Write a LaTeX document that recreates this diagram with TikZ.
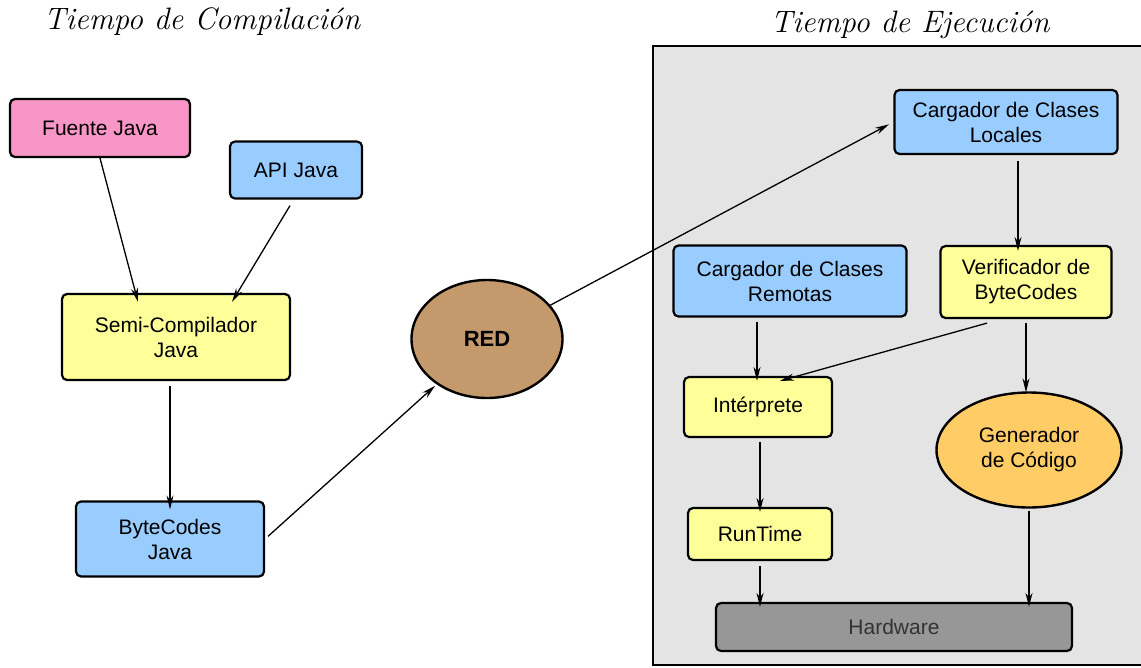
\documentclass[tikz,border=0pt]{standalone}
\usepackage{fontspec}
\setmainfont{Liberation Sans}
\newfontfamily\titlefont{Latin Modern Roman}
\usetikzlibrary{arrows.meta,shapes.geometric}
\definecolor{pinkc}{HTML}{F896C8}
\definecolor{bluec}{HTML}{99CCFF}
\definecolor{yellowc}{HTML}{FFFF99}
\definecolor{brownc}{HTML}{C49A6C}
\definecolor{orangec}{HTML}{FFCC66}
\definecolor{panelc}{HTML}{E4E4E4}
\definecolor{hwc}{HTML}{979797}
\tikzset{
  box/.style={draw=black, line width=2.2pt, rounded corners=5pt, align=center,
    font=\fontsize{21}{25}\selectfont, inner sep=0pt},
  ell/.style={draw=black, line width=2.4pt, ellipse, align=center, inner sep=0pt,
    font=\fontsize{21}{25}\selectfont},
  arr/.style={-{Stealth[length=14pt,width=7pt]}, line width=1.3pt},
  ttl/.style={font=\titlefont\itshape\fontsize{31}{34}\selectfont}
}
\begin{document}
\begin{tikzpicture}[x=1pt,y=-1pt]
\useasboundingbox (0,0) rectangle (1141,667);
\fill[white] (0,0) rectangle (1141,667);
% panel
\begin{scope}
\clip (0,0) rectangle (1141,667);
\draw[fill=panelc, line width=2.2pt] (653,46) rectangle (1150,665);
\end{scope}
% titles
\node[ttl] (t1) at (202,22) {Tiempo de Compilación};
\node[ttl] (t2) at (910,25) {Tiempo de Ejecución};
% compile-time nodes
\node[box, fill=pinkc, minimum width=180pt, minimum height=58pt] (fuente) at (100,128) {Fuente Java};
\node[box, fill=bluec, minimum width=132pt, minimum height=57pt] (api) at (296,170) {API Java};
\node[box, fill=yellowc, minimum width=228pt, minimum height=86pt] (semi) at (176,337) {Semi-Compilador\\Java};
\node[box, fill=bluec, minimum width=188pt, minimum height=75pt] (bc) at (170,539) {ByteCodes\\Java};
\node[ell, fill=brownc, minimum width=151pt, minimum height=118pt, font=\bfseries\fontsize{22}{25}\selectfont] (red) at (487,339) {RED};
% run-time nodes
\node[box, fill=bluec, minimum width=223pt, minimum height=64pt] (loc) at (1006,122) {Cargador de Clases\\Locales};
\node[box, fill=bluec, minimum width=233pt, minimum height=71pt] (rem) at (790,281) {Cargador de Clases\\Remotas};
\node[box, fill=yellowc, minimum width=171pt, minimum height=72pt] (ver) at (1026,282) {Verificador de\\ByteCodes};
\node[box, fill=yellowc, minimum width=148pt, minimum height=60pt] (int) at (758,407) {Intérprete};
\node[ell, fill=orangec, minimum width=185pt, minimum height=115pt] (gen) at (1029,450) {Generador\\de Código};
\node[box, fill=hwc, minimum width=356pt, minimum height=48pt, text=black!80] (hw) at (894,627) {Hardware};
\node[box, fill=yellowc, minimum width=144pt, minimum height=52pt] (run) at (760,534) {RunTime};
% connectors
\draw[arr] (fuente.south) -- ([xshift=-38pt,yshift=-9pt]semi.north);
\draw[arr] ([xshift=-6pt,yshift=-6pt]api.south) -- ([xshift=56pt,yshift=-9pt]semi.north);
\draw[arr] ([xshift=-6pt,yshift=-5pt]semi.south) -- ([xshift=0pt,yshift=-9pt]bc.north);
\draw[arr, shorten <=4pt, shorten >=2pt] (bc.east) -- (red);
\draw[arr, shorten >=5pt] (red) -- (loc.west);
\draw[arr] ([xshift=12pt,yshift=-6pt]loc.south) -- ([xshift=-8pt,yshift=-6pt]ver.north);
\draw[arr] ([xshift=-33pt,yshift=-4pt]rem.south) -- ([xshift=-1pt,yshift=-5pt]int.north);
\draw[arr] ([xshift=-39pt,yshift=-4pt]ver.south) -- ([xshift=22pt,yshift=-5pt]int.north);
\draw[arr] ([yshift=-4pt]ver.south) -- ([xshift=-3pt,yshift=-1pt]gen.north);
\draw[arr] ([xshift=2pt,yshift=-4pt]int.south) -- ([yshift=-5pt]run.north);
\draw[arr] ([yshift=-5pt]run.south) -- ([xshift=-134pt,yshift=-5pt]hw.north);
\draw[arr] ([yshift=-2pt]gen.south) -- ([xshift=135pt,yshift=-5pt]hw.north);
\end{tikzpicture}
\end{document}
